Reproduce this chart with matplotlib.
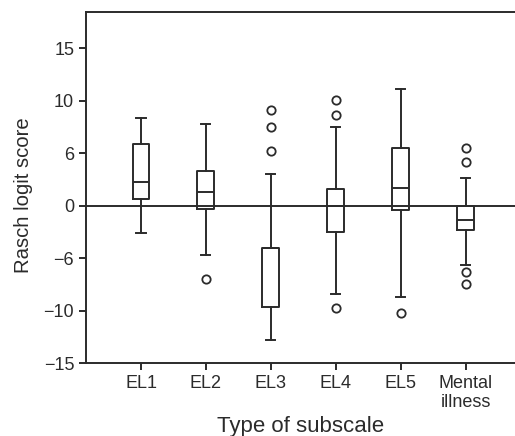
import matplotlib
matplotlib.use("Agg")
import matplotlib.pyplot as plt

plt.rcParams['font.family'] = ['Liberation Sans', 'DejaVu Sans']

# subscale names
categories = ["EL1", "EL2", "EL3", "EL4", "EL5", "Mental\nillness"]

# box statistics
whislo = [-2.6, -4.67, -12.84, -8.42, -8.7, -5.62]
q1 = [0.64, -0.32, -9.63, -2.55, -0.38, -2.29]
med = [2.29, 1.3, -4.07, 0.0, 1.65, -1.4]
q3 = [5.88, 3.27, -4.07, 1.55, 5.46, 0.0]
whishi = [8.32, 7.82, 3.05, 7.46, 11.09, 2.67]
fliers = [
    [],
    [-6.96],
    [9.06, 7.53, 5.24],
    [10.04, 8.6, -9.79],
    [-10.23],
    [5.46, 4.13, -6.36, -7.46],
]

# y tick positions and the labels printed on them
ytick_pos = [15, 10, 5, 0, -5, -10, -15]
ytick_labels = ["15", "10", "6", "0", "\u22126", "\u221210", "\u221215"]

stats = []
for i in range(len(categories)):
    stats.append(dict(whislo=whislo[i], q1=q1[i], med=med[i], q3=q3[i],
                      whishi=whishi[i], fliers=fliers[i]))

col = "#2b2b2b"
lw = 1.4
fig = plt.figure(figsize=(5.15, 4.36), dpi=100)
ax = fig.add_axes([0.167, 0.1674, 0.833, 0.804])

ax.axhline(0, color=col, lw=lw, zorder=1)

ax.bxp(stats, positions=range(1, 7), widths=0.26, showfliers=True,
       boxprops=dict(color=col, lw=lw),
       medianprops=dict(color=col, lw=lw),
       whiskerprops=dict(color=col, lw=lw),
       capprops=dict(color=col, lw=lw),
       capwidths=0.14,
       flierprops=dict(marker='o', markersize=6, markerfacecolor='white',
                       markeredgecolor=col, markeredgewidth=1.3))

ax.set_xlim(0.153, 6.76)
ax.set_ylim(-15, 18.4)
ax.set_xticks(range(1, 7))
ax.set_xticklabels(categories, fontsize=13, linespacing=1.2)
ax.set_yticks(ytick_pos)
ax.set_yticklabels(ytick_labels, fontsize=13)
ax.tick_params(axis='both', direction='out', length=5, width=lw, color=col,
               labelcolor=col)

ax.spines['right'].set_visible(False)
for s in ['left', 'top', 'bottom']:
    ax.spines[s].set_color(col)
    ax.spines[s].set_linewidth(lw)

ax.set_xlabel("Type of subscale", fontsize=16, color=col, labelpad=3)
ax.set_ylabel("Rasch logit score", fontsize=14.6, color=col)
ax.yaxis.set_label_coords(-0.124, 0.48)

fig.savefig("out.png", dpi=100)
